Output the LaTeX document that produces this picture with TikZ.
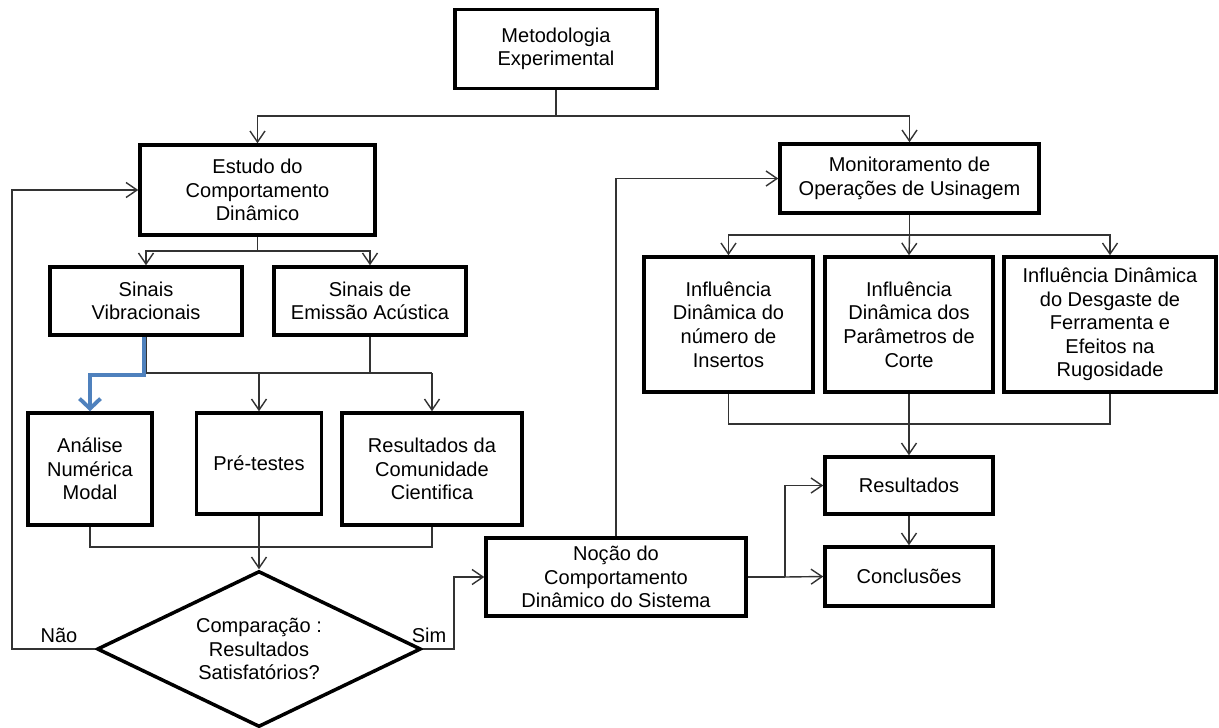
\documentclass[tikz,border=0pt]{standalone}
\usepackage{fontspec}
\setmainfont{Liberation Sans}
\usetikzlibrary{shapes.geometric,arrows.meta}

\begin{document}
\begin{tikzpicture}[x=0.02cm, y=-0.02cm,
    font=\fontsize{11.4}{13.4}\selectfont,
    box/.style={draw, line width=2pt, align=center, inner sep=0pt},
    conn/.style={draw=black!80, line width=0.8pt},
    arr/.style={conn, -{Straight Barb[length=0.22cm, width=0.3cm]}},
    bluearr/.style={draw={rgb,255:red,79;green,129;blue,189}, line width=2.2pt,
      -{Straight Barb[length=0.2cm, width=0.42cm]}}]
    \useasboundingbox (0,0) rectangle (1219,727);
    % Top
    \node[box, minimum width=4.04cm, minimum height=1.58cm] (meto) at (556,49) {Metodologia\\Experimental};
    % Left branch
    \node[box, minimum width=4.7cm, minimum height=1.8cm] (estudo) at (257.5,190) {Estudo do\\Comportamento\\Dinâmico};
    \node[box, minimum width=3.84cm, minimum height=1.36cm] (vibr) at (146,301) {Sinais\\Vibracionais};
    \node[box, minimum width=3.84cm, minimum height=1.36cm] (acust) at (370,301) {Sinais de\\Emissão Acústica};
    \node[box, minimum width=2.48cm, minimum height=2.24cm] (analise) at (90,469) {Análise\\Numérica\\Modal};
    \node[box, minimum width=2.5cm, minimum height=2.02cm] (pre) at (259,463.5) {Pré-testes};
    \node[box, minimum width=3.6cm, minimum height=2.24cm] (comun) at (432,469) {Resultados da\\Comunidade\\Cientifica};
    \node[draw, line width=2pt, diamond, aspect=2.08, align=center, inner sep=0pt,
      minimum width=6.48cm, minimum height=3.12cm] (comp) at (259,649) {Comparação :\\Resultados\\Satisfatórios?};
    \node (nao) at (59,635) {Não};
    \node (sim) at (429,635) {Sim};
    % Right branch
    \node[box, minimum width=5.18cm, minimum height=1.38cm] (monit) at (909.5,178.5) {Monitoramento de\\Operações de Usinagem};
    \node[box, minimum width=3.38cm, minimum height=2.7cm] (insertos) at (728.5,324.5) {Influência\\Dinâmica do\\número de\\Insertos};
    \node[box, minimum width=3.36cm, minimum height=2.7cm] (param) at (909,324.5) {Influência\\Dinâmica dos\\Parâmetros de\\Corte};
    \node[box, minimum width=4.24cm, minimum height=2.7cm] (desg) at (1110,324.5) {Influência Dinâmica\\do Desgaste de\\Ferramenta e\\Efeitos na\\Rugosidade};
    \node[box, minimum width=5.2cm, minimum height=1.56cm] (nocao) at (616,577) {Noção do\\Comportamento\\Dinâmico do Sistema};
    \node[box, minimum width=3.36cm, minimum height=1.14cm] (result) at (909,485.5) {Resultados};
    \node[box, minimum width=3.36cm, minimum height=1.18cm] (concl) at (909,576.5) {Conclusões};
    % Junctions
    \coordinate (j1) at (556,116);
    \coordinate (j2) at (257.5,251);
    \coordinate (j3) at (146,373);
    \coordinate (j4) at (259,547);
    \coordinate (j5) at (909.5,235);
    \coordinate (j6) at (909,424);
    \coordinate (j7) at (785,577);
    \coordinate (back) at (12,649);
    \coordinate (yes) at (454,649);
    % Connectors
    \draw[conn] (meto.south) -- (j1);
    \draw[arr] (j1) -| (estudo.north);
    \draw[arr] (j1) -| (monit.north);
    \draw[conn] (estudo.south) -- (j2);
    \draw[arr] (j2) -| (vibr.north);
    \draw[arr] (j2) -| (acust.north);
    \draw[conn] (vibr.south) -- (j3) -- (j3 -| comun.north);
    \draw[conn] (acust.south) -- (acust.south |- j3);
    \draw[arr] (j3 -| pre.north) -- (pre.north);
    \draw[arr] (j3 -| comun.north) -- (comun.north);
    \draw[bluearr] ([xshift=-1pt]vibr.south) |- ([yshift=-1pt]j3 -| analise.north) -- (analise.north);
    \draw[conn] (analise.south) |- (j4) -| (comun.south);
    \draw[arr] (pre.south) -- (comp.north);
    \draw[arr] (comp.west) -- (back) |- (estudo.west);
    \draw[arr] (comp.east) -- (yes) |- (nocao.west);
    \draw[arr] (nocao.north) |- (monit.west);
    \draw[conn] (monit.south) -- (j5);
    \draw[arr] (j5) -| (insertos.north);
    \draw[arr] (j5) -- (param.north);
    \draw[arr] (j5) -| (desg.north);
    \draw[conn] (insertos.south) |- (j6) -| (desg.south);
    \draw[arr] (param.south) -- (result.north);
    \draw[arr] (result.south) -- (concl.north);
    \draw[conn] (nocao.east) -- (j7);
    \draw[arr] (j7) |- (result.west);
    \draw[arr] (j7) -- (concl.west);
\end{tikzpicture}
\end{document}
